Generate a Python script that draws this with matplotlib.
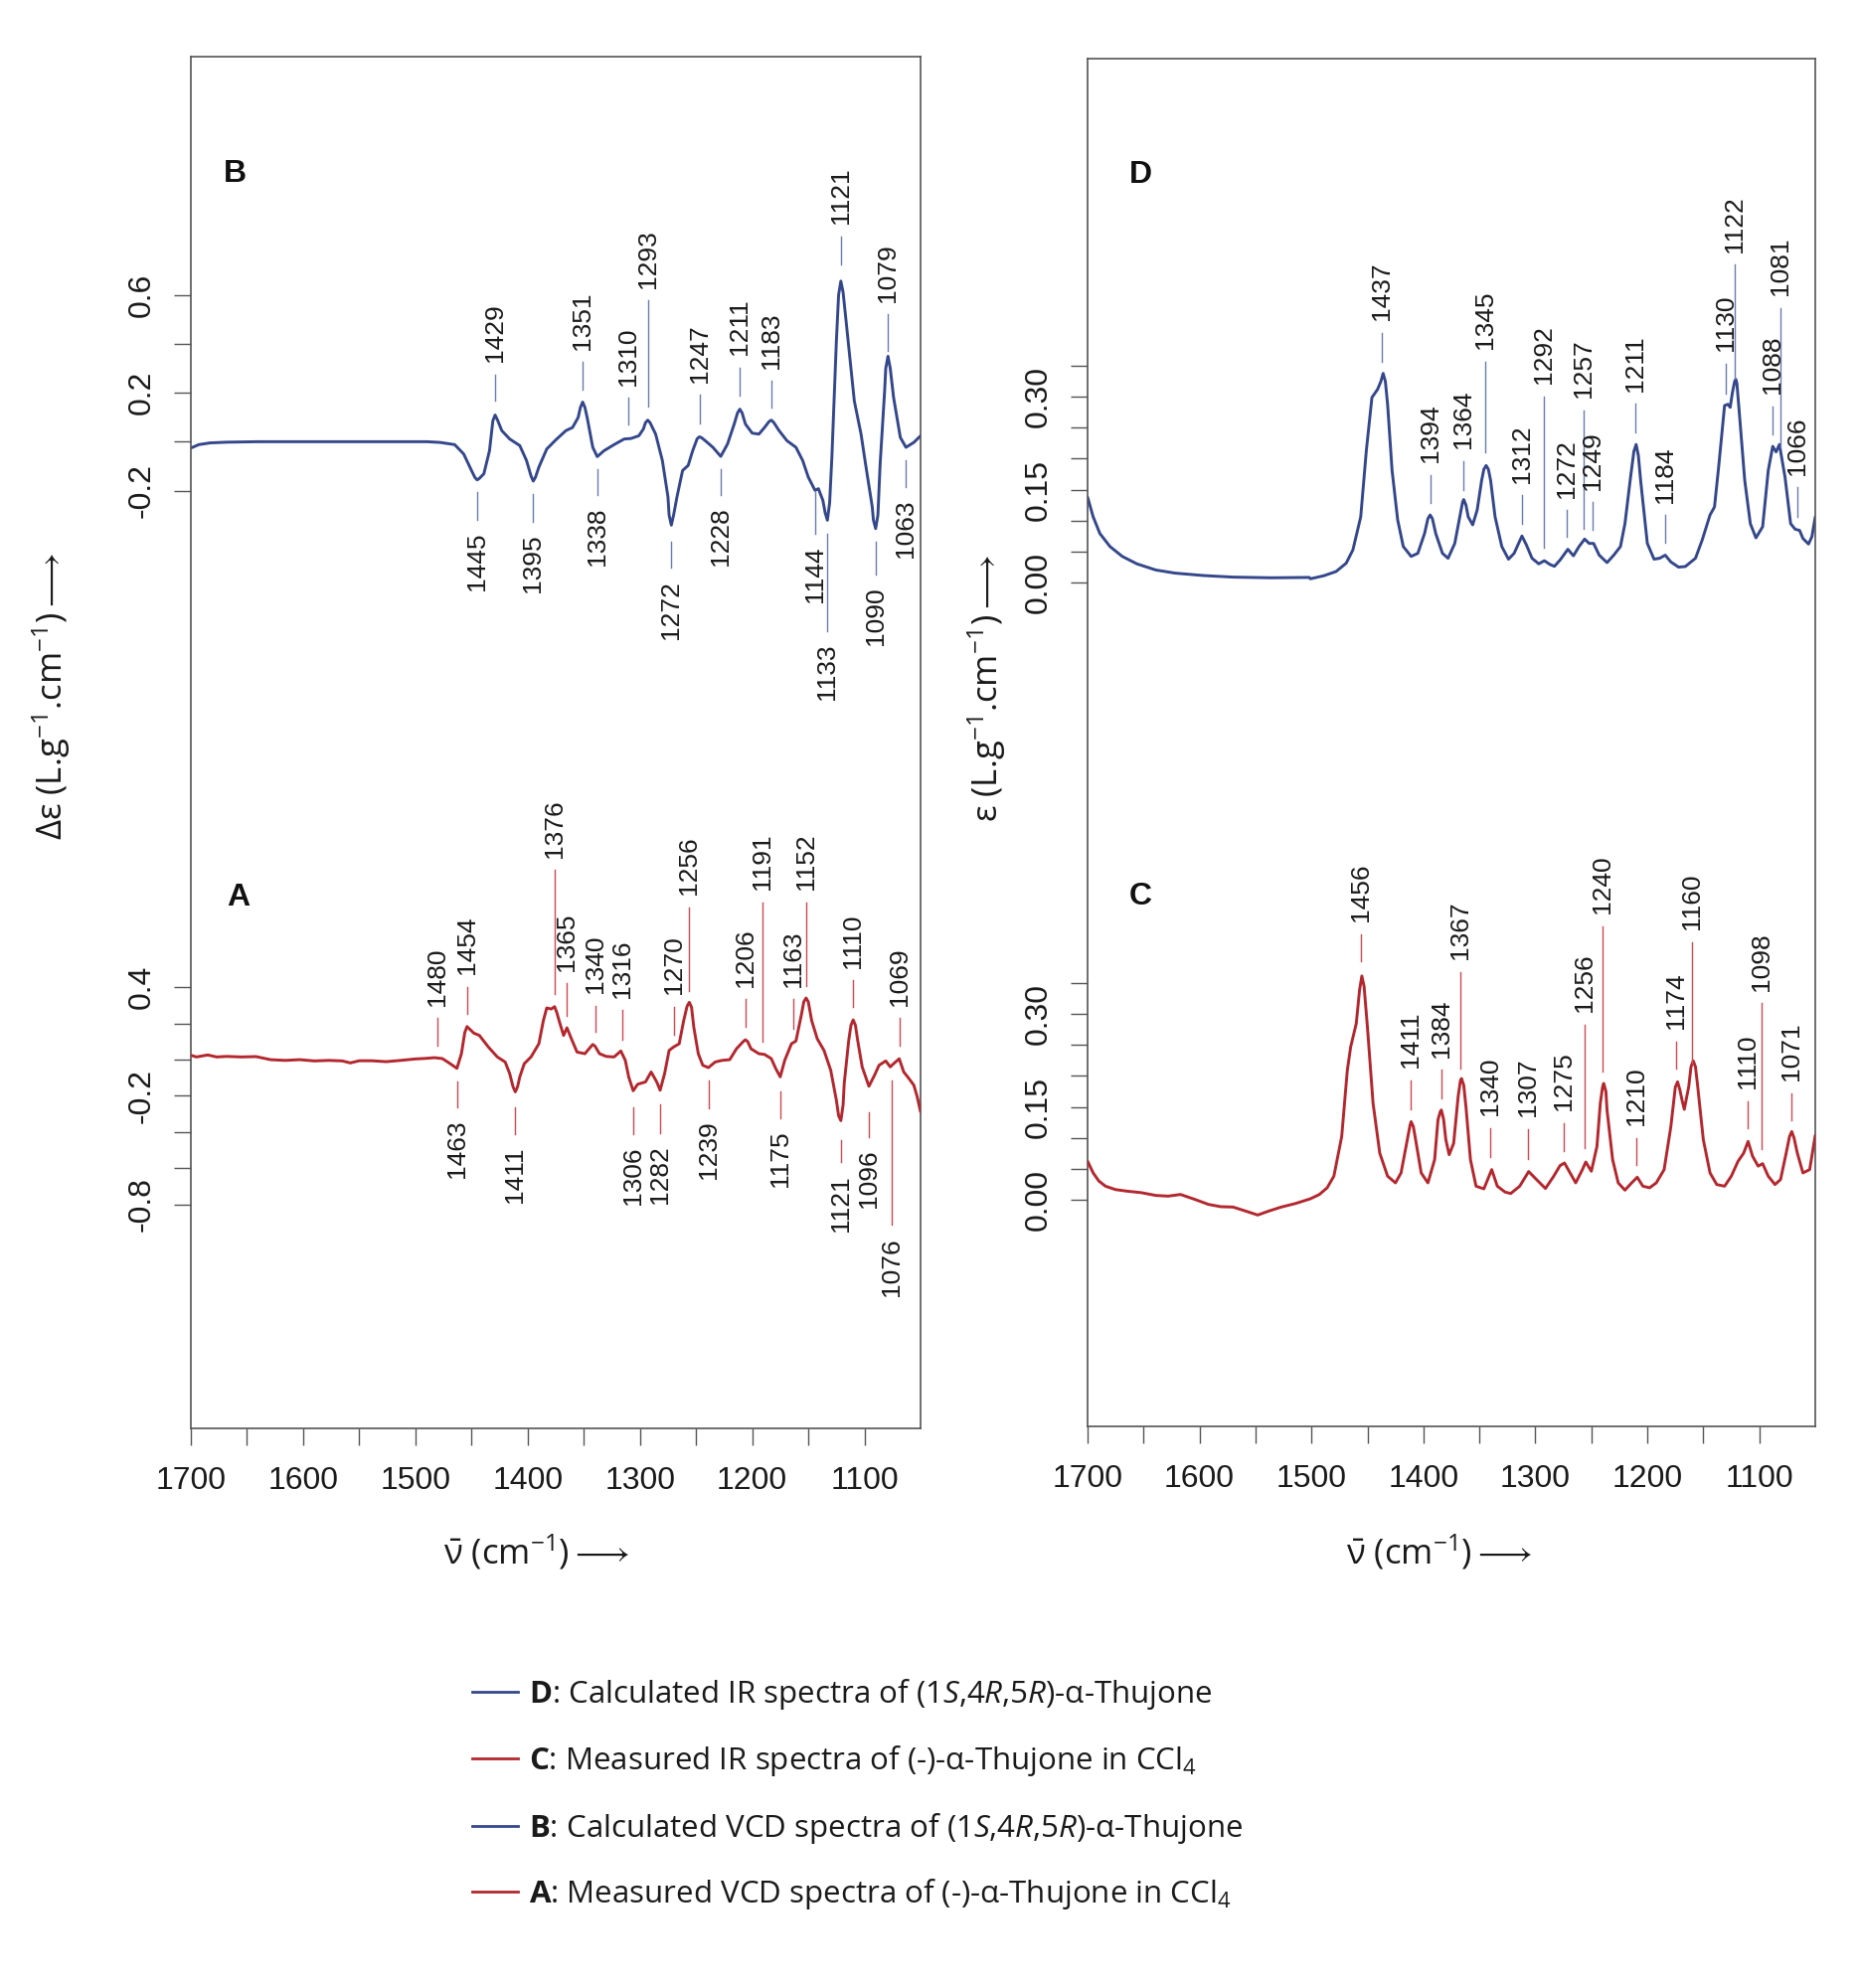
import matplotlib
matplotlib.use("Agg")
import matplotlib.pyplot as plt

plt.rcParams['axes.unicode_minus'] = False
plt.rcParams['mathtext.fontset'] = 'custom'
plt.rcParams['mathtext.rm'] = 'Open Sans'
plt.rcParams['mathtext.it'] = 'Open Sans:italic'
plt.rcParams['mathtext.bf'] = 'Open Sans:bold'
plt.rcParams['mathtext.fallback'] = 'stixsans'

# ---------------- data ----------------
# B: calculated VCD (1S,4R,5R)-alpha-thujone
B_nu = [1700, 1693, 1683, 1668, 1640, 1560, 1490, 1478, 1465, 1457, 1450, 1447, 1445, 1443, 1439, 1434, 1431, 1429,
        1427, 1423, 1416, 1407, 1401, 1397, 1395, 1393, 1390, 1383, 1375, 1366, 1360, 1355, 1353, 1351, 1349, 1347, 1342, 1338,
        1332, 1323, 1314, 1308, 1301, 1297, 1295, 1293, 1291, 1286, 1280, 1275, 1274, 1272, 1270, 1267, 1262, 1257, 1253,
        1249, 1247, 1245, 1241, 1235, 1228, 1222, 1216, 1213, 1211, 1209, 1206, 1200, 1194, 1189, 1185, 1183, 1181, 1176, 1169, 1161,
        1155, 1150, 1144, 1141, 1137, 1135, 1133, 1131, 1129, 1125, 1123, 1121, 1119, 1116, 1109, 1103, 1099, 1093, 1092, 1090,
        1088, 1086, 1082, 1081, 1079, 1077, 1074, 1068, 1063, 1056, 1050]
B_val = [-0.026, -0.012, -0.005, -0.002, 0.0, 0.0, 0.0, -0.003, -0.012, -0.050, -0.118, -0.146, -0.156, -0.150, -0.131, -0.037, 0.085, 0.109,
         0.090, 0.045, 0.011, -0.016, -0.077, -0.140, -0.161, -0.145, -0.104, -0.030, 0.007, 0.045, 0.058, 0.099, 0.140, 0.162, 0.140, 0.099, -0.023, -0.061,
         -0.037, -0.012, 0.011, 0.013, 0.024, 0.051, 0.078, 0.088, 0.078, 0.031, -0.077, -0.226, -0.300, -0.341, -0.300, -0.226, -0.118, -0.097, -0.037,
         0.012, 0.020, 0.016, 0.001, -0.023, -0.060, -0.010, 0.072, 0.118, 0.133, 0.118, 0.072, 0.035, 0.031, 0.058, 0.082, 0.088, 0.080, 0.045, 0.004, -0.023,
         -0.077, -0.145, -0.199, -0.192, -0.240, -0.290, -0.321, -0.250, -0.064, 0.410, 0.600, 0.656, 0.610, 0.478, 0.166, 0.031, -0.091, -0.267, -0.320, -0.355,
         -0.300, -0.091, 0.207, 0.300, 0.349, 0.300, 0.180, 0.017, -0.023, -0.003, 0.024]

# A: measured VCD (-)-alpha-thujone in CCl4
A_nu = [1700, 1695, 1685, 1677, 1668, 1655, 1642, 1629, 1616, 1603, 1590, 1577, 1565, 1558, 1550,
        1539, 1526, 1513, 1500, 1491, 1483, 1476, 1470, 1463, 1459, 1456, 1454, 1451, 1448, 1443, 1435, 1427,
        1420, 1416, 1413, 1411, 1409, 1407, 1403, 1397, 1390, 1386, 1383, 1379, 1376, 1374, 1372, 1368, 1365, 1361,
        1356, 1349, 1344, 1342, 1340, 1336, 1330, 1323, 1317, 1313, 1310, 1306, 1302, 1295, 1290, 1285, 1282,
        1278, 1274, 1270, 1265, 1261, 1258, 1256, 1254, 1252, 1248, 1244, 1239, 1233, 1227, 1220, 1214, 1208, 1206, 1204,
        1201, 1194, 1189, 1183, 1179, 1175, 1171, 1165, 1161, 1156, 1154, 1152, 1150, 1147, 1142, 1136, 1130,
        1125, 1123, 1121, 1119, 1118, 1114, 1112, 1110, 1108, 1106, 1102, 1096, 1091, 1087, 1081, 1077, 1074, 1069, 1065,
        1061, 1056, 1053, 1050]
A_val = [0.024, 0.015, 0.026, 0.015, 0.018, 0.015, 0.017, 0.000, -0.004, 0.000, -0.007, -0.004, -0.007, -0.018, -0.006,
         -0.006, -0.011, -0.004, 0.004, 0.007, 0.011, 0.006, -0.018, -0.048, 0.033, 0.150, 0.183, 0.165, 0.147, 0.134, 0.070, 0.015,
         -0.013, -0.077, -0.150, -0.178, -0.150, -0.095, -0.022, 0.015, 0.088, 0.216, 0.286, 0.280, 0.293, 0.260, 0.216, 0.134, 0.176, 0.115,
         0.042, 0.033, 0.070, 0.084, 0.075, 0.033, 0.018, 0.015, 0.048, -0.004, -0.095, -0.172, -0.136, -0.123, -0.068, -0.123, -0.169,
         -0.077, 0.051, 0.070, 0.088, 0.216, 0.295, 0.317, 0.290, 0.180, 0.033, -0.031, -0.044, -0.013, -0.004, 0.000, 0.060, 0.100, 0.110, 0.100,
         0.060, 0.033, 0.029, 0.006, -0.049, -0.095, -0.004, 0.088, 0.103, 0.253, 0.320, 0.341, 0.320, 0.216, 0.115, 0.051, -0.059,
         -0.224, -0.310, -0.337, -0.250, -0.132, 0.106, 0.190, 0.220, 0.190, 0.106, -0.040, -0.147, -0.086, -0.031, -0.007, -0.040, -0.022, 0.005, -0.068,
         -0.099, -0.141, -0.205, -0.288]

# D: calculated IR (1S,4R,5R)-alpha-thujone
D_nu = [1700, 1695, 1689, 1680, 1669, 1656, 1639, 1622, 1596, 1570, 1536, 1502, 1501, 1489, 1478,
        1469, 1463, 1456, 1451, 1446, 1441, 1438, 1436, 1434, 1432, 1428, 1423, 1418, 1411, 1405, 1399, 1396, 1394,
        1392, 1389, 1383, 1378, 1372, 1367, 1365, 1364, 1362, 1360, 1356, 1352, 1348, 1346, 1344, 1342, 1340, 1336, 1330, 1324,
        1319, 1315, 1312, 1308, 1303, 1297, 1292, 1287, 1283, 1278, 1271, 1266, 1261, 1256, 1252,
        1248, 1243, 1236, 1230, 1224, 1220, 1215, 1212, 1210, 1208, 1206, 1200, 1194, 1189, 1184, 1179, 1172,
        1166, 1157, 1151, 1144, 1140, 1136, 1131, 1128, 1126, 1124, 1122, 1121, 1120, 1118, 1113, 1108, 1103,
        1097, 1092, 1088, 1085, 1082, 1077, 1072, 1068, 1064, 1061, 1056, 1053, 1050]
D_val = [0.138, 0.106, 0.079, 0.058, 0.042, 0.030, 0.020, 0.015, 0.011, 0.0085, 0.0074, 0.008, 0.0058, 0.0107, 0.0176,
         0.031, 0.0525, 0.106, 0.213, 0.299, 0.312, 0.325, 0.338, 0.325, 0.288, 0.181, 0.101, 0.058, 0.042, 0.047, 0.079, 0.103, 0.109,
         0.103, 0.079, 0.047, 0.039, 0.063, 0.111, 0.130, 0.134, 0.125, 0.106, 0.093, 0.117, 0.165, 0.183, 0.189, 0.183, 0.165, 0.106, 0.058, 0.0375,
         0.047, 0.063, 0.075, 0.0605, 0.039, 0.030, 0.035, 0.029, 0.026, 0.036, 0.0535, 0.043, 0.058, 0.070, 0.063,
         0.063, 0.044, 0.032, 0.044, 0.058, 0.095, 0.170, 0.212, 0.223, 0.205, 0.165, 0.063, 0.0375, 0.039, 0.044, 0.033, 0.0246,
         0.0257, 0.039, 0.0685, 0.109, 0.122, 0.192, 0.286, 0.288, 0.283, 0.307, 0.325, 0.3285, 0.322, 0.278, 0.165, 0.095, 0.072,
         0.090, 0.181, 0.220, 0.211, 0.223, 0.170, 0.095, 0.086, 0.084, 0.071, 0.062, 0.074, 0.106]

# C: measured IR (-)-alpha-thujone in CCl4
C_nu = [1700, 1695, 1690, 1684, 1675, 1665, 1652, 1639, 1628, 1617, 1604, 1592, 1581, 1570, 1559,
        1548, 1538, 1527, 1514, 1501, 1493, 1486, 1480, 1473, 1468, 1465, 1460, 1457, 1455, 1453, 1450, 1445,
        1439, 1432, 1425, 1420, 1415, 1412, 1411, 1409, 1407, 1402, 1396, 1390, 1387, 1385, 1384, 1382, 1380, 1377, 1373,
        1369, 1367, 1366, 1364, 1362, 1358, 1353, 1346, 1339, 1334, 1327, 1322, 1314, 1306, 1299, 1291, 1284,
        1278, 1274, 1269, 1264, 1258, 1255, 1250, 1245, 1242, 1240, 1239, 1237, 1236, 1231, 1226, 1220, 1214,
        1209, 1204, 1198, 1192, 1185, 1179, 1175, 1173, 1171, 1169, 1167, 1163, 1161, 1159, 1157, 1155, 1150, 1144, 1138,
        1131, 1125, 1119, 1114, 1110, 1106, 1101, 1097, 1092, 1086, 1081, 1076, 1073, 1071, 1069, 1066, 1061,
        1055, 1050]
C_val = [0.062, 0.043, 0.030, 0.0215, 0.016, 0.0135, 0.011, 0.0065, 0.0054, 0.0081, 0.000, -0.008, -0.0117, -0.0123, -0.0187,
         -0.0252, -0.0187, -0.0123, -0.0064, 0.0011, 0.008, 0.0189, 0.0377, 0.102, 0.209, 0.247, 0.285, 0.340, 0.362, 0.345, 0.279, 0.156,
         0.075, 0.0377, 0.0269, 0.043, 0.091, 0.120, 0.126, 0.118, 0.097, 0.043, 0.0269, 0.0645, 0.129, 0.142, 0.145, 0.130, 0.097, 0.0725, 0.091,
         0.1665, 0.192, 0.196, 0.185, 0.150, 0.0645, 0.0215, 0.0172, 0.0484, 0.0215, 0.0119, 0.0097, 0.0215, 0.0452, 0.0323, 0.0178, 0.0366,
         0.0548, 0.0591, 0.043, 0.0269, 0.0484, 0.0607, 0.0457, 0.086, 0.156, 0.182, 0.188, 0.175, 0.145, 0.0645, 0.0269, 0.0151, 0.0269,
         0.036, 0.0215, 0.0189, 0.0269, 0.0484, 0.118, 0.182, 0.1906, 0.178, 0.161, 0.146, 0.183, 0.215, 0.2245, 0.215, 0.183, 0.097, 0.043, 0.0242,
         0.0215, 0.0377, 0.0618, 0.075, 0.094, 0.070, 0.054, 0.058, 0.0377, 0.0242, 0.0323, 0.075, 0.102, 0.110, 0.100, 0.075, 0.043,
         0.0484, 0.104]

# peak labels (wavenumbers) and whether they sit above (True) or below (False) the trace
B_peaks = [1429, 1351, 1310, 1293, 1247, 1211, 1183, 1121, 1079, 1445, 1395, 1338, 1272, 1228, 1144, 1133, 1090, 1063]
B_up = [True] * 9 + [False] * 9
A_peaks = [1480, 1454, 1376, 1365, 1340, 1316, 1270, 1256, 1206, 1191, 1163, 1152, 1110, 1069,
           1463, 1411, 1306, 1282, 1239, 1175, 1121, 1096, 1076]
A_up = [True] * 14 + [False] * 9
D_peaks = [1437, 1394, 1364, 1345, 1312, 1292, 1272, 1257, 1249, 1211, 1184, 1130, 1122, 1088, 1081, 1066]
D_up = [True] * 16
C_peaks = [1456, 1411, 1384, 1367, 1340, 1307, 1275, 1256, 1240, 1210, 1174, 1160, 1110, 1098, 1071]
C_up = [True] * 15

# axis ticks
x_major = [1700, 1600, 1500, 1400, 1300, 1200, 1100]
x_minor = [1650, 1550, 1450, 1350, 1250, 1150]
B_yticks = [-0.2, 0.0, 0.2, 0.4, 0.6]
B_ylabels = ['-0.2', '', '0.2', '', '0.6']
A_yticks = [-0.8, -0.6, -0.4, -0.2, 0.0, 0.2, 0.4]
A_ylabels = ['-0.8', '', '', '-0.2', '', '', '0.4']
IR_yticks = [0.0, 0.05, 0.10, 0.15, 0.20, 0.25, 0.30, 0.35]
IR_ylabels = ['0.00', '', '', '0.15', '', '', '0.30', '']

legend_entries = [
    (r'$\mathbf{D}$: Calculated IR spectra of (1$\mathit{S}$,4$\mathit{R}$,5$\mathit{R}$)-α-Thujone', 'blue'),
    (r'$\mathbf{C}$: Measured IR spectra of (-)-α-Thujone in CCl$_{4}$', 'red'),
    (r'$\mathbf{B}$: Calculated VCD spectra of (1$\mathit{S}$,4$\mathit{R}$,5$\mathit{R}$)-α-Thujone', 'blue'),
    (r'$\mathbf{A}$: Measured VCD spectra of (-)-α-Thujone in CCl$_{4}$', 'red'),
]

# ---------------- layout / style ----------------
W, H = 1871, 2000
BLUE, RED = '#34478b', '#b3272e'
BLUE_L, RED_L = '#6a7bb0', '#cc4a52'
FRAME = '#555555'
NUMF = 'Liberation Sans'
TXTF = ['Open Sans', 'DejaVu Sans']

# label line extents (top, bottom) in each trace's own units
B_ltop = [0.2745, 0.326, 0.180, 0.578, 0.192, 0.302, 0.249, 0.838, 0.521,
          -0.206, -0.214, -0.112, -0.409, -0.112, -0.206, -0.376, -0.409, -0.076]
B_lbot = [0.1665, 0.212, 0.070, 0.143, 0.074, 0.188, 0.139, 0.724, 0.371,
          -0.320, -0.328, -0.218, -0.515, -0.218, -0.376, -0.774, -0.543, -0.186]
A_ltop = [0.229, 0.402, 1.049, 0.423, 0.298, 0.275, 0.292, 0.841, 0.334, 0.871, 0.334, 0.871, 0.438, 0.229,
          -0.120, -0.264, -0.264, -0.247, -0.114, -0.174, -0.442, -0.293, -0.114]
A_lbot = [0.080, 0.253, 0.363, 0.244, 0.154, 0.110, 0.140, 0.379, 0.184, 0.101, 0.170, 0.408, 0.289, 0.080,
          -0.264, -0.412, -0.412, -0.407, -0.269, -0.323, -0.568, -0.427, -0.914]
D_ltop = [0.4035, 0.174, 0.196, 0.357, 0.141, 0.301, 0.117, 0.278, 0.130, 0.289, 0.109, 0.354, 0.514, 0.285, 0.444, 0.154]
D_lbot = [0.357, 0.129, 0.150, 0.211, 0.095, 0.056, 0.074, 0.087, 0.085, 0.243, 0.064, 0.305, 0.330, 0.240, 0.219, 0.106]
C_ltop = [0.430, 0.193, 0.210, 0.369, 0.116, 0.114, 0.124, 0.283, 0.443, 0.100, 0.256, 0.417, 0.159, 0.318, 0.172]
C_lbot = [0.386, 0.146, 0.164, 0.212, 0.068, 0.066, 0.079, 0.083, 0.207, 0.056, 0.212, 0.220, 0.116, 0.081, 0.129]

fig = plt.figure(figsize=(W / 100, H / 100), dpi=100)


def rect(x0, y0, x1, y1):
    return [x0 / W, 1 - y1 / H, (x1 - x0) / W, (y1 - y0) / H]


def base_axes(r):
    ax = fig.add_axes(r)
    ax.set_xlim(1700, 1050)
    for s in ax.spines.values():
        s.set_color(FRAME)
        s.set_linewidth(1.2)
    ax.set_xticks(x_major)
    ax.set_xticklabels([str(v) for v in x_major], family=NUMF)
    ax.set_xticks(x_minor, minor=True)
    ax.tick_params(axis='x', which='both', direction='out', length=12, width=1.0,
                   color=FRAME, pad=15, labelsize=23, labelcolor='#1a1a1a')
    return ax


def overlay_axes(r):
    ax = fig.add_axes(r)
    ax.set_xlim(1700, 1050)
    ax.patch.set_visible(False)
    for s in ax.spines.values():
        s.set_visible(False)
    ax.tick_params(axis='x', which='both', bottom=False, labelbottom=False)
    return ax


def yaxis(ax, ticks, labels, lim):
    ax.set_ylim(*lim)
    ax.set_yticks(ticks)
    ax.set_yticklabels(labels, family=NUMF, rotation=90, va='center')
    ax.tick_params(axis='y', which='both', direction='out', length=12, width=1.0,
                   color=FRAME, pad=13, labelsize=23, labelcolor='#1a1a1a')
    ax.tick_params(axis='y', which='minor', left=False)


def labels(ax, peaks, up, ltop, lbot, lcolor):
    for nu, u, t, b in zip(peaks, up, ltop, lbot):
        ax.plot([nu, nu], [b, t], color=lcolor, lw=1.0)
        if u:
            ax.annotate(str(nu), xy=(nu, t), xytext=(0, 9), textcoords='offset points',
                        rotation=90, ha='center', va='bottom', fontsize=19, family=NUMF, color='#1a1a1a')
        else:
            ax.annotate(str(nu), xy=(nu, b), xytext=(0, -9), textcoords='offset points',
                        rotation=90, ha='center', va='top', fontsize=19, family=NUMF, color='#1a1a1a')


LW = dict(lw=2.1, solid_joinstyle='round', solid_capstyle='round')

# left panel (B over A)
rL = rect(192, 57, 926, 1437)
axB = base_axes(rL)
yaxis(axB, B_yticks, B_ylabels, (-4.031, 1.573))
axB.plot(B_nu, B_val, color=BLUE, **LW)
labels(axB, B_peaks, B_up, B_ltop, B_lbot, BLUE_L)

axA = overlay_axes(rL)
yaxis(axA, A_yticks, A_ylabels, (-2.038, 5.544))
axA.plot(A_nu, A_val, color=RED, **LW)
labels(axA, A_peaks, A_up, A_ltop, A_lbot, RED_L)

# right panel (D over C)
rR = rect(1094, 59, 1826, 1435)
axD = base_axes(rR)
yaxis(axD, IR_yticks, IR_ylabels, (-1.365, 0.847))
axD.plot(D_nu, D_val, color=BLUE, **LW)
labels(axD, D_peaks, D_up, D_ltop, D_lbot, BLUE_L)

axC = overlay_axes(rR)
yaxis(axC, IR_yticks, IR_ylabels, (-0.3676, 1.848))
axC.plot(C_nu, C_val, color=RED, **LW)
labels(axC, C_peaks, C_up, C_ltop, C_lbot, RED_L)

# panel letters
for letter, (px, py) in zip(['B', 'A', 'D', 'C'], [(236, 175), (240, 903), (1147, 176), (1147, 902)]):
    fig.text(px / W, 1 - py / H, letter, fontsize=23, fontweight='bold', family='Liberation Sans',
             ha='center', va='center', color='#111111')

# axis titles
fig.text(52 / W, 1 - 700 / H, r'Δε (L.g$^{-1}$.cm$^{-1}$)$\longrightarrow$', rotation=90, ha='center', va='center',
         fontsize=25, family=TXTF, color='#1a1a1a')
fig.text(993 / W, 1 - 692 / H, r'ε (L.g$^{-1}$.cm$^{-1}$)$\longrightarrow$', rotation=90, ha='center', va='center',
         fontsize=25, family=TXTF, color='#1a1a1a')
for cx in (540, 1448):
    fig.text(cx / W, 1 - 1562 / H, r'$\bar{\mathrm{\nu}}$ (cm$^{-1}$)$\longrightarrow$', ha='center', va='center',
             fontsize=25, family=TXTF, color='#1a1a1a')

# legend
leg_y = [1702, 1769, 1837, 1903]
for (txt, col), ly in zip(legend_entries, leg_y):
    c = BLUE if col == 'blue' else RED
    fig.add_artist(plt.Line2D([475 / W, 521 / W], [1 - ly / H, 1 - ly / H], color=c, lw=2.0))
    fig.text(532 / W, 1 - (ly + 11) / H, txt, ha='left', va='baseline', fontsize=22.5,
             family=TXTF, color='#1a1a1a')

fig.savefig('out.png', dpi=100)
